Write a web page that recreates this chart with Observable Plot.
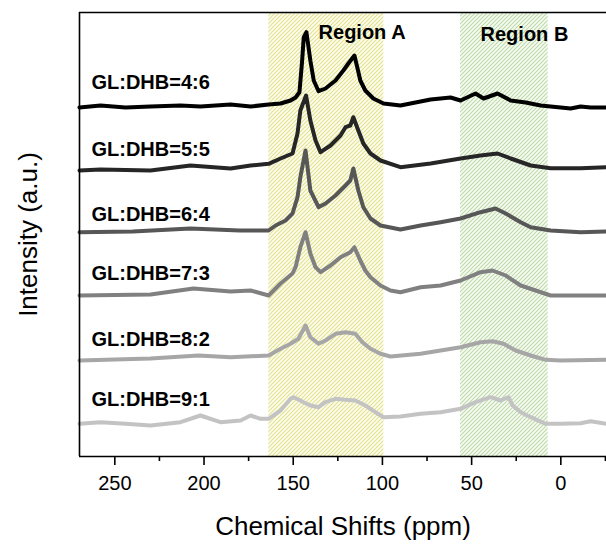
<!DOCTYPE html>
<html><head><meta charset="utf-8">
<script src="https://cdn.jsdelivr.net/npm/d3@7"></script>
<script src="https://cdn.jsdelivr.net/npm/@observablehq/plot@0.6"></script>
<style>body{margin:0;background:#fff}</style>
</head><body><div id="chart"></div>
<script>
// ---- data ----
const seriesNames = ["GL:DHB=4:6","GL:DHB=5:5","GL:DHB=6:4","GL:DHB=7:3","GL:DHB=8:2","GL:DHB=9:1"];
const seriesColors = ["#000000","#262626","#575757","#808080","#a6a6a6","#c3c3c3"];
// [chemical shift (ppm), intensity (a.u., offset stacked)]
const spectrum46 = [[269.8,349],[258,351],[244,349],[230,350],[213.2,351],[202,350],[185.1,352],[173.9,350],[163.8,352],[157.1,353],[151.5,356],[148.7,359],[146.5,364.3],[145.0,396],[144.1,419.3],[142.6,424.3],[140.4,396],[138.5,376],[135.8,365.3],[131.9,368],[126.3,376],[121.9,386],[119.1,393],[115.7,401],[114.1,389.3],[112.4,376],[109.6,366],[105.1,358],[99.4,353],[89.9,351],[84.3,353],[73.0,357],[61.8,359],[56.2,356],[47.8,363],[43.3,358],[35.5,363],[28.1,356],[19.7,354],[11.3,351],[0.1,349],[-5.5,348],[-11.1,350],[-16.7,349],[-25.6,349]];
const spectrum55 = [[269.8,286],[258,287],[230,286],[207.6,291],[185.1,288],[173.9,291],[163.8,292.7],[157.1,298],[150.4,303],[147.6,323],[146.0,346],[142.8,361],[140.4,336],[137.5,316],[134.7,304.3],[129.1,311],[123.5,321],[120.7,329.3],[118.0,331],[116.3,339.3],[113.5,326],[110.7,313],[106.7,303],[101.1,296],[89.9,289.3],[73.0,293],[56.2,298],[45.0,301],[35.5,303],[28.1,298],[16.9,291],[5.7,288.3],[-11.1,288.3],[-25.6,289.3]];
const spectrum64 = [[269.8,224.3],[240,225],[207.6,228],[180,226],[163.8,226],[159.9,231],[154.3,236],[150.4,243],[147.6,259.3],[146.0,279.3],[143.1,306],[140.4,266],[135.8,249.3],[131.9,253],[126.3,261],[120.7,271],[118.0,276],[116.3,288],[113.5,266],[110.7,249.3],[106.7,238],[101.1,231],[89.9,227],[78.6,231],[67.4,234.3],[56.2,238],[45.0,244.3],[36.6,248],[30.9,243],[22.5,234.3],[16.9,229.3],[5.7,226],[-11.1,224.3],[-25.6,225]];
const spectrum73 = [[269.8,161],[230,162],[205.9,168],[185.1,165],[173.9,166],[163.8,161],[157.1,173],[150.4,183],[148.7,189.3],[146.0,209.3],[143.1,224.3],[140.4,203],[137.5,189.3],[134.7,184.3],[129.1,191],[123.5,199.3],[118.0,204.3],[115.7,209.3],[112.4,196],[109.6,186],[106.7,179.3],[101.1,171],[95.5,166],[89.9,164.3],[78.6,169.3],[67.4,171],[56.2,176],[45.0,184.3],[38.3,186],[30.9,181],[22.5,171],[14.1,166],[5.7,161],[-11.1,161],[-25.6,161]];
const spectrum82 = [[269.8,96],[230,98],[203.1,101],[185.1,99.3],[163.8,101],[157.1,107.7],[151.5,112.7],[147.1,117.7],[143.1,131],[140.4,119.3],[135.8,112.7],[131.9,116],[126.3,122.7],[120.7,124.3],[115.2,122.7],[111.2,114.3],[106.7,107.7],[101.1,102.7],[95.5,100],[78.6,102.7],[67.4,106],[56.2,109.3],[45.0,114.3],[38.3,115.3],[32.1,112.7],[25.3,106],[16.9,101],[8.5,96.7],[0.1,96],[-25.6,96.7]];
const spectrum91 = [[269.8,32.7],[258,34.3],[244,32.7],[230,31],[213.2,34.3],[202,41],[190.8,34.3],[179.5,36],[173.9,41],[168.3,37.7],[163.8,37.7],[157.1,46],[151.5,57.7],[149.8,59.3],[146.0,56],[144.2,54.3],[140.4,51],[135.8,49.3],[131.9,54.3],[126.3,57.7],[120.7,56.7],[115.2,56],[109.6,51],[103.9,44.3],[99.4,39.3],[89.9,40],[78.6,42.7],[67.4,44.3],[56.2,47.7],[47.8,54.3],[39.4,59.3],[33.8,56],[29.3,59.3],[27.0,51],[22.5,44.3],[16.9,39.3],[8.5,32.7],[0.1,32.7],[-11.1,33.3],[-16.7,35.3],[-25.6,32.7]];
const spectra = [spectrum46, spectrum55, spectrum64, spectrum73, spectrum82, spectrum91];
const labelShift = 263.1;
const labelLevels = [367.7, 301, 236, 177, 111, 51];
const regionNames = ["Region A", "Region B"];
const regionStart = [163.7, 56.2];
const regionEnd = [99.2, 7.1];
const regionLabelShift = [135.8, 45.0];
const regionLabelLevel = [417.7, 415.3];
const majorTicks = [250, 200, 150, 100, 50, 0];
const minorTicks = [225, 175, 125, 75, 25, -25];
const xDomain = [269.8, -25.6];
const yDomain = [0, 444];
const xTitle = "Chemical Shifts (ppm)";
const yTitle = "Intensity (a.u.)";

// ---- tables ----
const rows = spectra.flatMap((s, i) => s.map(([ppm, v]) => ({name: seriesNames[i], ppm, v})));
const labels = seriesNames.map((name, i) => ({name, ppm: labelShift, v: labelLevels[i]}));
const regions = regionNames.map((name, i) => ({name, x1: regionStart[i], x2: regionEnd[i], lx: regionLabelShift[i], ly: regionLabelLevel[i]}));

const font = "'Liberation Sans', Arial, sans-serif";
const plot = Plot.plot({
  width: 606, height: 544,
  marginLeft: 79, marginRight: 0, marginTop: 12, marginBottom: 88,
  style: {fontFamily: font, color: "#000", background: "#fff"},
  x: {domain: xDomain},
  y: {domain: yDomain, axis: null},
  color: {domain: seriesNames, range: seriesColors},
  marks: [
    Plot.rect([regions[0]], {x1: "x1", x2: "x2", y1: yDomain[0], y2: yDomain[1], fill: "url(#hatchA)"}),
    Plot.rect([regions[1]], {x1: "x1", x2: "x2", y1: yDomain[0], y2: yDomain[1], fill: "url(#hatchB)"}),
    Plot.line(rows, {x: "ppm", y: "v", z: "name", stroke: "name", strokeWidth: 4, strokeLinejoin: "round", strokeLinecap: "round"}),
    Plot.text(labels, {x: "ppm", y: "v", text: "name", textAnchor: "start", lineAnchor: "bottom", fontSize: 20, fontWeight: "bold", fill: "#000"}),
    Plot.text(regions, {x: "lx", y: "ly", text: "name", textAnchor: "start", lineAnchor: "bottom", fontSize: 20, fontWeight: "bold", fill: "#000"}),
    Plot.ruleY([yDomain[0]], {stroke: "#000", strokeWidth: 1.6}),
    Plot.ruleY([yDomain[1]], {stroke: "#000", strokeWidth: 1.6}),
    Plot.ruleX([xDomain[0]], {stroke: "#000", strokeWidth: 1.6}),
    Plot.axisX(majorTicks, {tickSize: 9, tickPadding: 10, fontSize: 20, label: null, strokeWidth: 1.6}),
    Plot.axisX(minorTicks, {tickSize: 5, tickFormat: () => "", label: null, strokeWidth: 1.6}),
    Plot.text([xTitle], {frameAnchor: "bottom", dy: 78, lineAnchor: "bottom", fontSize: 26, fill: "#000"}),
    Plot.text([yTitle], {frameAnchor: "left", dx: -43, rotate: -90, textAnchor: "middle", lineAnchor: "bottom", fontSize: 26, fill: "#000"})
  ]
});
const defs = document.createElementNS("http://www.w3.org/2000/svg", "defs");
defs.innerHTML =
  '<pattern id="hatchA" width="4" height="4" patternUnits="userSpaceOnUse">' +
  '<rect width="4" height="4" fill="#fdfdf2"/>' +
  '<path d="M-1,1 l2,-2 M0,4 l4,-4 M3,5 l2,-2" stroke="#e2e28c" stroke-width="1.1"/></pattern>' +
  '<pattern id="hatchB" width="4" height="4" patternUnits="userSpaceOnUse">' +
  '<rect width="4" height="4" fill="#f8fcf5"/>' +
  '<path d="M-1,1 l2,-2 M0,4 l4,-4 M3,5 l2,-2" stroke="#bcd9a8" stroke-width="1.1"/></pattern>';
plot.prepend(defs);
document.getElementById("chart").appendChild(plot);
</script>
</body></html>
